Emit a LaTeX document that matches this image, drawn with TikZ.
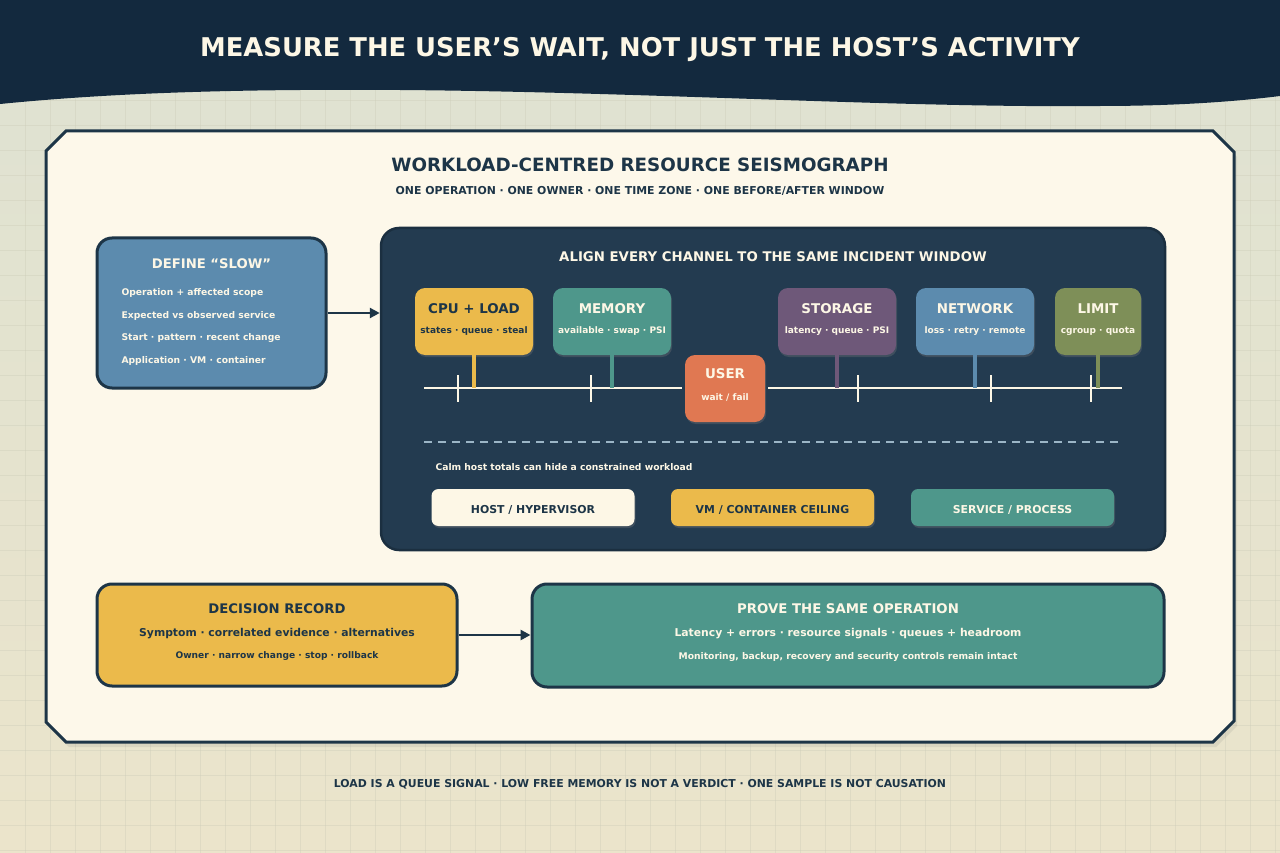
\documentclass[tikz,border=0pt]{standalone}
\usepackage{fontspec}
\setmainfont{DejaVu Sans}
\usetikzlibrary{arrows.meta,shadows,calc}

\definecolor{navy}{RGB}{19,41,62}
\definecolor{ink}{RGB}{29,53,71}
\definecolor{paper}{RGB}{253,248,234}
\definecolor{cream}{RGB}{253,247,230}
\definecolor{bgtop}{RGB}{222,226,210}
\definecolor{bgbot}{RGB}{235,228,203}
\definecolor{gridc}{RGB}{205,205,185}
\definecolor{panel}{RGB}{35,59,80}
\definecolor{panelbd}{RGB}{27,47,64}
\definecolor{steel}{RGB}{92,139,174}
\definecolor{amber}{RGB}{235,186,75}
\definecolor{teal}{RGB}{78,151,139}
\definecolor{plum}{RGB}{110,88,121}
\definecolor{olive}{RGB}{126,143,88}
\definecolor{coral}{RGB}{224,120,82}
\definecolor{dashc}{RGB}{155,181,198}

\newcommand{\fsz}[1]{\fontsize{#1}{#1}\selectfont\bfseries}

\tikzset{
  card/.style={draw=ink, line width=3pt, rounded corners=15pt},
  chan/.style={rounded corners=10pt, minimum height=67pt,
    drop shadow={opacity=0.3, shadow xshift=1pt, shadow yshift=-2pt}},
  chip/.style={rounded corners=7pt, minimum width=203pt, minimum height=37pt,
    drop shadow={opacity=0.3, shadow xshift=1pt, shadow yshift=-2pt}},
  arr/.style={-{Triangle[length=10pt,width=10pt]}, line width=2.5pt, draw=ink},
  tline/.style={draw=cream, line width=2.5pt},
  tickln/.style={draw=cream, line width=2pt},
  stem/.style={line width=4pt},
  gridln/.style={draw=gridc, line width=0.6pt, opacity=0.4}
}

\begin{document}
\begin{tikzpicture}[x=1pt,y=-1pt]
\useasboundingbox (0,0) rectangle (1280,853);

% backdrop
\fill[top color=bgtop, bottom color=bgbot] (0,0) rectangle (1280,853);
\foreach \g in {25,50,...,1275} \draw[gridln] (\g,0) -- (\g,853);
\foreach \g in {25,50,...,850} \draw[gridln] (0,\g) -- (1280,\g);

% header band
\fill[navy] (0,0) -- (1280,0) -- (1280,96) .. controls (1240,101) and (1180,106) .. (1100,106)
  .. controls (900,108) and (650,92) .. (400,90) .. controls (250,89) and (120,92) .. (0,104) -- cycle;
\node[font=\fsz{25.8}, text=cream] (headline) at (640,49.5) {MEASURE THE USER’S WAIT, NOT JUST THE HOST’S ACTIVITY};

% sheet
\filldraw[fill=paper, draw=ink, line width=3pt, drop shadow={opacity=0.15, shadow xshift=3pt, shadow yshift=-5pt}]
  (66,131) -- (1213,131) -- (1234,152) -- (1234,721) -- (1213,742) -- (66,742) -- (46,722) -- (46,151) -- cycle;
\node[font=\fsz{18.3}, text=ink] (sheettitle) at (640,165) {WORKLOAD-CENTRED RESOURCE SEISMOGRAPH};
\node[font=\fsz{10.9}, text=ink] (sheetsub) at (640,190.5) {ONE OPERATION · ONE OWNER · ONE TIME ZONE · ONE BEFORE/AFTER WINDOW};

% define slow
\node[card, fill=steel, minimum width=229pt, minimum height=150pt] (slow) at (211.5,313) {};
\node[font=\fsz{13.2}, text=cream] (slowtitle) at (211.5,264) {DEFINE “SLOW”};
\foreach \t [count=\i] in {Operation + affected scope, Expected vs observed service,
    Start · pattern · recent change, Application · VM · container}
  \node[font=\fsz{9.2}, text=cream, anchor=west] (slow\i) at (118,270.5+22.5*\i) {\t};

% seismograph panel
\node[draw=panelbd, fill=panel, line width=2.5pt, rounded corners=18pt,
  minimum width=784pt, minimum height=322pt] (align) at (773,389) {};
\node[font=\fsz{13.3}, text=cream] (aligntitle) at (773,257) {ALIGN EVERY CHANNEL TO THE SAME INCIDENT WINDOW};
\draw[arr] (slow.east) -- (slow.east -| align.west);

% time axis
\coordinate (tlL) at (424,388);
\coordinate (tlR) at (1122,388);
\node[chan, fill=coral, minimum width=80pt] (user) at (725,388.5) {};
\node[font=\fsz{13.4}, text=cream] (usertitle) at (725,374) {USER};
\node[font=\fsz{9}, text=cream] (usersub) at (725,397) {wait / fail};
\draw[tline] (tlL) -- ($(user.west |- tlL)+(-3,0)$);
\draw[tline] ($(user.east |- tlL)+(3,0)$) -- (tlR);
\foreach \t in {458,591,858,991,1091}
  \draw[tickln] (\t,375) -- (\t,402);

% channels
\foreach \n/\x/\w/\c/\tc/\ti/\su in {
    cpu/474/118/amber/ink/CPU + LOAD/states · queue · steal,
    mem/612/118/teal/cream/MEMORY/available · swap · PSI,
    disk/837/118/plum/cream/STORAGE/latency · queue · PSI,
    net/975/118/steel/cream/NETWORK/loss · retry · remote,
    lim/1098/86/olive/cream/LIMIT/cgroup · quota}{
  \node[chan, fill=\c, minimum width=\w pt] (\n) at (\x,321.5) {};
  \node[font=\fsz{13.4}, text=\tc] (\n title) at (\x,308.5) {\ti};
  \node[font=\fsz{9}, text=\tc] (\n sub) at (\x,331.5) {\su};
  \draw[stem, draw=\c] (\n.south) -- (\n.south |- tlL);
}

% layers
\coordinate (dashL) at (424,442);
\coordinate (dashR) at (1122,442);
\draw[dashc, line width=2pt, dash pattern=on 8pt off 6pt] (dashL) -- (dashR);
\node[font=\fsz{9.2}, text=cream, anchor=west] (calm) at (432,467) {Calm host totals can hide a constrained workload};
\node[chip, fill=cream] (host) at (533,507.5) {};
\node[chip, fill=amber] (vm) at (772.5,507.5) {};
\node[chip, fill=teal] (svc) at (1012.5,507.5) {};
\node[font=\fsz{10.9}, text=ink] (hosttext) at (533,509.5) {HOST / HYPERVISOR};
\node[font=\fsz{10.9}, text=ink] (vmtext) at (772.5,509.5) {VM / CONTAINER CEILING};
\node[font=\fsz{10.9}, text=cream] (svctext) at (1012.5,509.5) {SERVICE / PROCESS};

% decision record
\node[card, fill=amber, minimum width=360pt, minimum height=102pt] (decision) at (277,635) {};
\node[font=\fsz{13.2}, text=ink] (dectitle) at (277,608.5) {DECISION RECORD};
\node[font=\fsz{10.8}, text=ink] (decline) at (277,633.5) {Symptom · correlated evidence · alternatives};
\node[font=\fsz{9.1}, text=ink] (decnote) at (277,656.5) {Owner · narrow change · stop · rollback};

% proof
\node[card, fill=teal, minimum width=632pt, minimum height=103pt] (prove) at (848,635.5) {};
\node[font=\fsz{13.3}, text=cream] (provetitle) at (848,608.5) {PROVE THE SAME OPERATION};
\node[font=\fsz{10.8}, text=cream] (proveline) at (848,633.5) {Latency + errors · resource signals · queues + headroom};
\node[font=\fsz{9.2}, text=cream] (provenote) at (848,656.5) {Monitoring, backup, recovery and security controls remain intact};
\draw[arr] (decision.east) -- (decision.east -| prove.west);

% footer
\node[font=\fsz{10.9}, text=ink] (footer) at (640,784.5) {LOAD IS A QUEUE SIGNAL · LOW FREE MEMORY IS NOT A VERDICT · ONE SAMPLE IS NOT CAUSATION};
\end{tikzpicture}
\end{document}
